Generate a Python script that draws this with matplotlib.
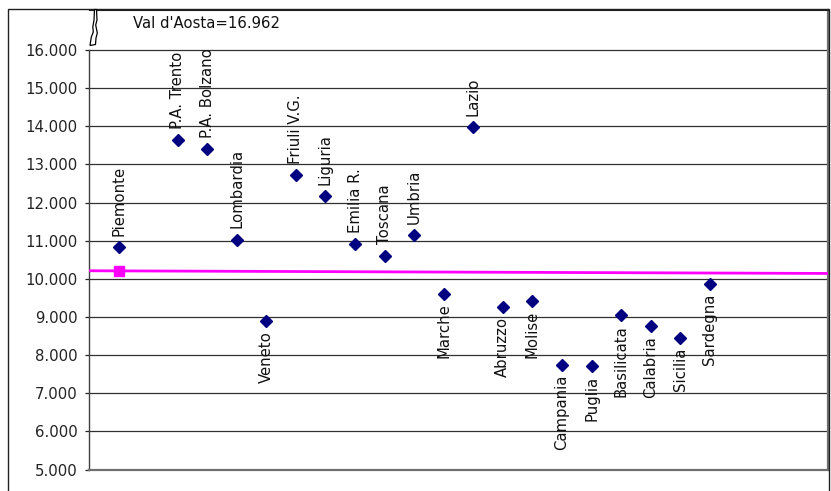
import matplotlib
matplotlib.use("Agg")
import matplotlib.pyplot as plt
from matplotlib.patches import Polygon, Rectangle
from matplotlib.ticker import FuncFormatter

# ---- data (values in thousands) ----
regions = ["Piemonte", "Val d'Aosta", "P.A. Trento", "P.A. Bolzano", "Lombardia", "Veneto",
           "Friuli V.G.", "Liguria", "Emilia R.", "Toscana", "Umbria", "Marche", "Lazio",
           "Abruzzo", "Molise", "Campania", "Puglia", "Basilicata", "Calabria", "Sicilia",
           "Sardegna"]
values = [10.828, 16.962, 13.633, 13.39, 11.03, 8.895, 12.72, 12.17, 10.91, 10.61, 11.15,
          9.61, 13.97, 9.26, 9.43, 7.75, 7.71, 9.04, 8.75, 8.46, 9.86]
label_above = [True, True, True, True, True, False, True, True, True, True, True,
               False, True, False, False, False, False, False, False, False, False]
italia_value = 10.20
italia_line = [10.21, 10.14]   # values at left and right edges of the plot
offscale_note = "Val d'Aosta=16.962"
yticks = list(range(5, 17))

W, H = 831, 491
FS = 10.7
fig = plt.figure(figsize=(W / 100, H / 100), dpi=100)
plt.rcParams['font.family'] = ['DejaVu Sans']

ax = fig.add_axes([89 / W, 1 - 469.5 / H, (828 - 89) / W, (469.5 - 9.5) / H])
xlim = (-1, 24)
ax.set_xlim(*xlim)
ax.set_ylim(5, 17.06)

# grid
for v in yticks:
    ax.axhline(v, color='#303030', lw=0.9, zorder=1)

# Italia line
ax.plot(list(xlim), italia_line, color='#FF00FF', lw=2.0, zorder=3, solid_capstyle='butt')
ax.plot([0], [italia_value], marker='s', color='#FF00FF', ms=6.5, zorder=4, ls='none')

# points (skip the off-scale one)
xs = [i for i, v in enumerate(values) if v < 16.5]
ys = [values[i] for i in xs]
ax.plot(xs, ys, ls='none', marker='D', color='#000080', ms=5.8, zorder=5)

for i in xs:
    if label_above[i]:
        ax.annotate(regions[i], (i, values[i]), xytext=(0, 8), textcoords='offset points',
                    rotation=90, ha='center', va='bottom', fontsize=FS, color='#111111')
    else:
        ax.annotate(regions[i], (i, values[i]), xytext=(0, -7), textcoords='offset points',
                    rotation=90, ha='center', va='top', fontsize=FS, color='#111111')

# axes styling
ax.set_yticks(yticks)
ax.yaxis.set_major_formatter(FuncFormatter(lambda v, p: f"{v:.3f}"))
ax.tick_params(axis='y', length=3, width=0.9, pad=5, labelsize=FS, colors='#222222')
ax.set_xticks([])
ax.spines['left'].set_bounds(5, 16)
ax.spines['left'].set_color('#404040')
ax.spines['left'].set_linewidth(1.0)
ax.spines['top'].set_color('#202020')
ax.spines['top'].set_linewidth(0.8)
for s in ('bottom', 'right'):
    ax.spines[s].set_color('#707070')
    ax.spines[s].set_linewidth(1.6)

# off-scale note
ax.text(133 / W, 1 - 23 / H, offscale_note, transform=fig.transFigure, fontsize=FS,
        ha='left', va='center', color='#111111')

# break symbol (zigzag)
pts_px = [(94.5, 9.5), (96.5, 9.5), (97, 20), (95.7, 25), (97.3, 33), (96, 38), (95.5, 44.5),
          (90, 45.5), (91.3, 37), (93.3, 32), (92.8, 27), (94, 20)]
pts = [(x / W, 1 - y / H) for x, y in pts_px]
fig.patches.append(Polygon(pts, closed=True, transform=fig.transFigure, facecolor='white',
                           edgecolor='black', lw=0.9, zorder=10))

# outer chart border
fig.patches.append(Rectangle((8 / W, 1 - 520 / H), (829 - 8) / W, (520 - 9) / H,
                             transform=fig.transFigure, fill=False, edgecolor='#202020',
                             lw=1.0, zorder=0))

fig.savefig("out.png", dpi=100, facecolor='white')
